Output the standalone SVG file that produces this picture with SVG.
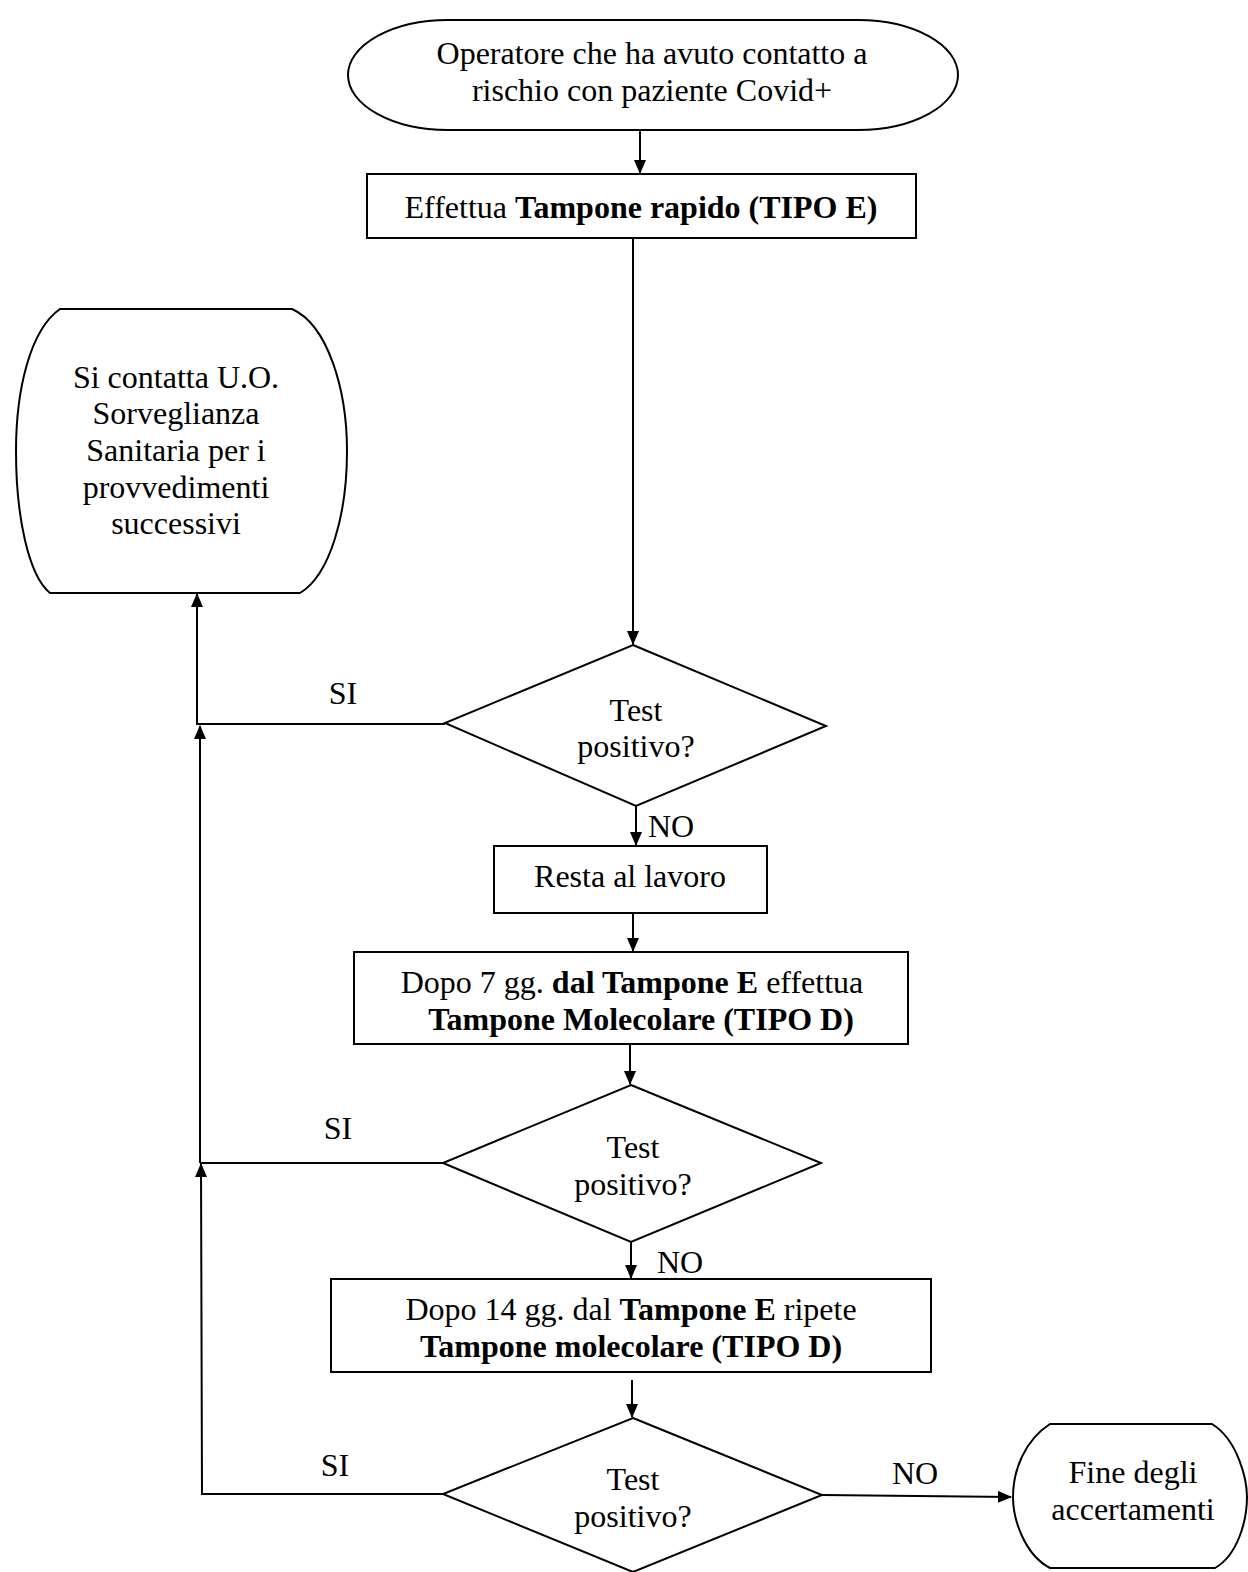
<svg xmlns="http://www.w3.org/2000/svg" width="1248" height="1572" viewBox="0 0 1248 1572">
<style>
.s{fill:#fff;stroke:#000;stroke-width:2}
.c{fill:none;stroke:#000;stroke-width:2}
text{font-family:"Liberation Serif","Times New Roman",serif;font-size:32px;fill:#000;text-anchor:middle}
.b{font-weight:bold}
.l{text-anchor:start}
</style>
<defs>
<marker id="ah" markerWidth="14" markerHeight="12" refX="13" refY="6" orient="auto" markerUnits="userSpaceOnUse">
<path d="M0,0 L14,6 L0,12 Z" fill="#000"/>
</marker>
</defs>
<rect width="1248" height="1572" fill="#fff"/>
<g id="connectors">
<line class="c" x1="640" y1="130" x2="640" y2="173" marker-end="url(#ah)"/>
<line class="c" x1="633" y1="238" x2="633" y2="644" marker-end="url(#ah)"/>
<polyline class="c" points="445,724 197,724 197,594" marker-end="url(#ah)"/>
<line class="c" x1="200" y1="1163" x2="200" y2="726" marker-end="url(#ah)"/>
<line class="c" x1="443" y1="1163" x2="200" y2="1163"/>
<polyline class="c" points="443,1494 202,1494 201,1164" marker-end="url(#ah)"/>
<line class="c" x1="636" y1="806" x2="636" y2="845" marker-end="url(#ah)"/>
<line class="c" x1="633" y1="913" x2="633" y2="951" marker-end="url(#ah)"/>
<line class="c" x1="630" y1="1044" x2="630" y2="1084" marker-end="url(#ah)"/>
<line class="c" x1="631" y1="1242" x2="631" y2="1278" marker-end="url(#ah)"/>
<line class="c" x1="632" y1="1380" x2="632" y2="1417" marker-end="url(#ah)"/>
<line class="c" x1="822" y1="1495" x2="1011" y2="1497" marker-end="url(#ah)"/>
<text x="343" y="704">SI</text>
<text x="338" y="1139">SI</text>
<text x="335" y="1476">SI</text>
<text class="l" x="648" y="837">NO</text>
<text class="l" x="657" y="1273">NO</text>
<text x="915" y="1484">NO</text>
</g>
<g id="start">
<rect class="s" x="348" y="20" width="610" height="110" rx="100" ry="55"/>
<text x="652" y="64">Operatore che ha avuto contatto a</text>
<text x="652" y="101">rischio con paziente Covid+</text>
</g>
<g id="tampone-rapido">
<rect class="s" x="367" y="174" width="549" height="64"/>
<text x="641" y="218">Effettua <tspan class="b">Tampone rapido (TIPO E)</tspan></text>
</g>
<g id="sorveglianza">
<path class="s" d="M60,309 L292,309 C328,325 347,390 347,451 C347,515 330,575 300,593 L50,593 C28,575 16,515 16,451 C16,390 30,330 60,309 Z"/>
<text x="176" y="388">Si contatta U.O.</text>
<text x="176" y="424">Sorveglianza</text>
<text x="176" y="461">Sanitaria per i</text>
<text x="176" y="498">provvedimenti</text>
<text x="176" y="534">successivi</text>
</g>
<g id="test1">
<polygon class="s" points="633,645 826,726 636,806 445,723"/>
<text x="636" y="721">Test</text>
<text x="636" y="757">positivo?</text>
</g>
<g id="resta">
<rect class="s" x="494" y="846" width="273" height="67"/>
<text x="630" y="887">Resta al lavoro</text>
</g>
<g id="dopo7">
<rect class="s" x="354" y="952" width="554" height="92"/>
<text x="632" y="993">Dopo 7 gg. <tspan class="b">dal Tampone E</tspan> effettua</text>
<text class="b" x="641" y="1030">Tampone Molecolare (TIPO D)</text>
</g>
<g id="test2">
<polygon class="s" points="631,1085 821,1163 631,1242 443,1163"/>
<text x="633" y="1158">Test</text>
<text x="633" y="1195">positivo?</text>
</g>
<g id="dopo14">
<rect class="s" x="331" y="1279" width="600" height="93"/>
<text x="631" y="1320">Dopo 14 gg. dal <tspan class="b">Tampone E</tspan> ripete</text>
<text class="b" x="631" y="1357">Tampone molecolare (TIPO D)</text>
</g>
<g id="test3">
<polygon class="s" points="633,1418 822,1495 633,1572 443,1494"/>
<text x="633" y="1490">Test</text>
<text x="633" y="1527">positivo?</text>
</g>
<g id="fine">
<path class="s" d="M1050,1424 L1212,1424 C1238,1440 1247,1480 1247,1497 C1247,1520 1238,1555 1215,1568 L1050,1568 C1025,1555 1013,1520 1013,1497 C1013,1470 1025,1440 1050,1424 Z"/>
<text x="1133" y="1483">Fine degli</text>
<text x="1133" y="1520">accertamenti</text>
</g>
</svg>
